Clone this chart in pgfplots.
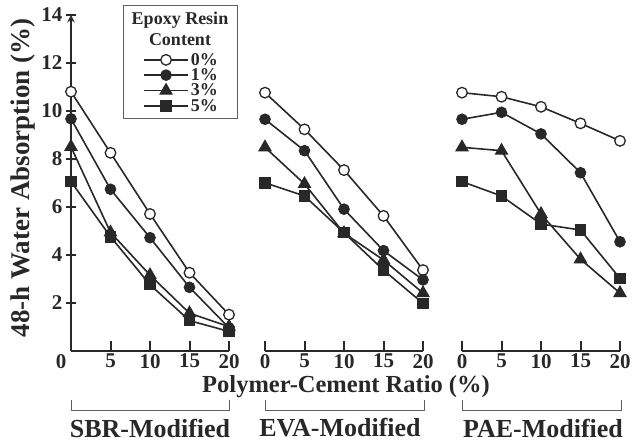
\documentclass[border=0pt]{standalone}
\usepackage{fontspec}
\setmainfont{Liberation Serif}
\usepackage{pgfplots}
\pgfplotsset{compat=1.18}
\definecolor{ink}{RGB}{40,40,40}
\pgfplotsset{
 panel/.style={scale only axis, width=158pt, height=335.6pt,
   xmin=0, xmax=20, ymin=0, ymax=14,
   axis x line=bottom, tick align=inside, major tick length=10pt,
   axis line style={-, line width=2.2pt, draw=ink},
   every tick/.style={draw=ink, line width=2pt},
   clip=false,
   /pgf/number format/assume math mode=true,
   tick label style={font=\fontsize{21}{21}\selectfont\bfseries, text=ink},
   every axis plot/.append style={draw=ink, line width=1.6pt},
 },
 e0/.style={mark=*, mark size=5.3pt, mark options={solid, fill=white, draw=ink, line width=1.3pt}},
 e1/.style={mark=*, mark size=5.3pt, mark options={solid, fill=ink, draw=ink, line width=1pt}},
 e3/.style={mark=triangle*, mark size=7pt, mark options={solid, fill=ink, draw=ink, line width=1pt}},
 e5/.style={mark=square*, mark size=5.3pt, mark options={solid, fill=ink, draw=ink, line width=1pt}},
}
\begin{document}
\begin{tikzpicture}
\useasboundingbox (0,0) rectangle (636pt,-443pt);
% ---------- SBR ----------
\begin{axis}[panel, at={(71pt,-350.6pt)}, anchor=south west,
  axis y line=left, xtick={5,10,15,20}, ytick={2,4,...,14},
  legend style={at={(axis description cs:0.456,0.887)}, anchor=north west,
    draw=none, fill=none, inner sep=0pt, row sep=1.8pt, column sep=2pt,
    font=\fontsize{18}{18}\selectfont\bfseries, text=ink,
    nodes={inner sep=0pt}},
  legend cell align=left,
  legend image code/.code={\draw[mark repeat=2,mark phase=2] plot coordinates {(0pt,0pt)(22pt,0pt)(44pt,0pt)};},
]
\addplot[e0] coordinates {(0,10.8)(5,8.25)(10,5.7)(15,3.25)(20,1.5)};
\addplot[e1] coordinates {(0,9.67)(5,6.73)(10,4.71)(15,2.64)(20,0.95)};
\addplot[e3] coordinates {(0,8.5)(5,4.93)(10,3.15)(15,1.56)(20,1.0)};
\addplot[e5] coordinates {(0,7.05)(5,4.75)(10,2.75)(15,1.25)(20,0.8)};
\legend{0\%,1\%,3\%,5\%}
\end{axis}
% ---------- EVA ----------
\begin{axis}[panel, at={(265pt,-350.6pt)}, anchor=south west,
  axis y line=none, xtick={0,5,10,15,20}]
\addplot[e0] coordinates {(0,10.76)(5,9.23)(10,7.53)(15,5.62)(20,3.36)};
\addplot[e1] coordinates {(0,9.65)(5,8.34)(10,5.9)(15,4.17)(20,2.95)};
\addplot[e3] coordinates {(0,8.48)(5,6.95)(10,4.9)(15,3.78)(20,2.4)};
\addplot[e5] coordinates {(0,7.0)(5,6.45)(10,4.92)(15,3.36)(20,1.97)};
\end{axis}
% ---------- PAE ----------
\begin{axis}[panel, at={(462pt,-350.6pt)}, anchor=south west,
  axis y line=none, xtick={0,5,10,15,20}]
\addplot[e0] coordinates {(0,10.76)(5,10.59)(10,10.17)(15,9.48)(20,8.75)};
\addplot[e1] coordinates {(0,9.65)(5,9.94)(10,9.04)(15,7.42)(20,4.54)};
\addplot[e3] coordinates {(0,8.48)(5,8.34)(10,5.7)(15,3.81)(20,2.4)};
\addplot[e5] coordinates {(0,7.05)(5,6.45)(10,5.28)(15,5.03)(20,3.01)};
\end{axis}
% legend frame and title
\draw[ink!75, line width=0.8pt] (123pt,-5pt) rectangle (237pt,-118pt);
\node[align=center, text=ink, font=\fontsize{18}{21}\selectfont\bfseries] at (180pt,-28.5pt) {Epoxy Resin\\Content};
% zero label
\node[text=ink, font=\fontsize{21}{21}\selectfont\bfseries] at (61pt,-362pt) {0};
% axis titles
\node[text=ink, font=\fontsize{24.5}{24.5}\selectfont\bfseries] at (346pt,-387pt) {Polymer-Cement Ratio (\%)};
\node[text=ink, rotate=90, font=\fontsize{27}{27}\selectfont\bfseries] at (23pt,-178pt) {48-h Water Absorption (\%)};
% brackets
\begin{scope}[ink!75, line width=0.9pt]
\draw (71.5pt,-400pt) -- (71.5pt,-410pt) -- (229pt,-410pt) -- (229pt,-400pt);
\draw (265pt,-400pt) -- (265pt,-410pt) -- (424pt,-410pt) -- (424pt,-400pt);
\draw (462pt,-400pt) -- (462pt,-410pt) -- (621pt,-410pt) -- (621pt,-400pt);
\end{scope}
\begin{scope}[every node/.style={text=ink, font=\fontsize{26}{26}\selectfont\bfseries}]
\node at (150pt,-428pt) {SBR-Modified};
\node at (340pt,-428pt) {EVA-Modified};
\node at (543pt,-428pt) {PAE-Modified};
\end{scope}
\end{tikzpicture}
\end{document}
